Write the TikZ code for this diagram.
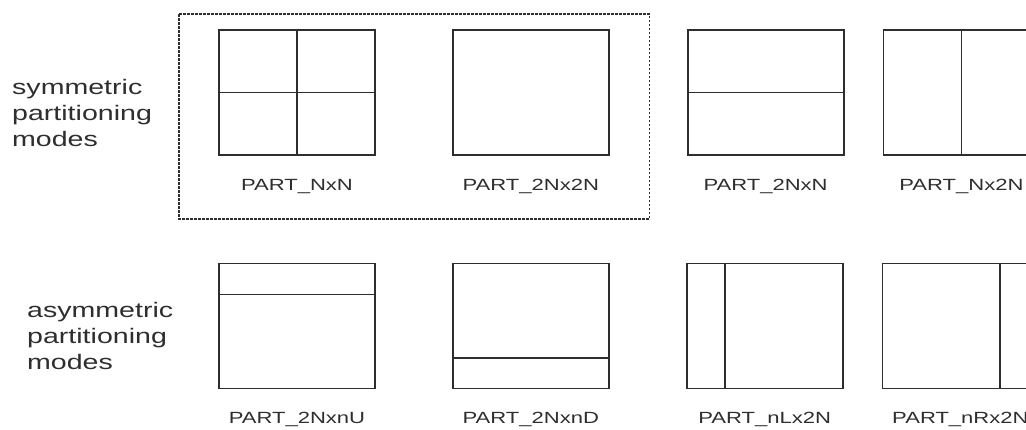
\documentclass[tikz,border=0pt]{standalone}
\usepackage{fontspec}
\setmainfont[FakeStretch=1.36]{Liberation Sans}
\usetikzlibrary{positioning,calc}
\definecolor{linegray}{rgb}{0.18,0.18,0.18}
\tikzset {
        partbox/.style={rectangle, draw=linegray, line width=1.8pt, inner sep=0pt, minimum width=156pt, minimum height=125pt},
        partname/.style={inner sep=0pt, text=linegray, font=\fontsize{16.2}{18}\selectfont},
        modename/.style={align=left, inner sep=0pt, text=linegray, font=\fontsize{21}{26}\selectfont},
        splitline/.style={draw=linegray, line width=1.6pt},
        groupbox/.style={draw=linegray, line width=1.4pt, dash pattern=on 2.5pt off 1.5pt}
}
\begin{document}
\begin{tikzpicture}[x=1pt, y=-1pt]
            \useasboundingbox (0,0) rectangle (1026,429);
            % symmetric row
            \node[partbox] (NxN) at (297,92.5) {};
            \node[partbox, right=76pt of NxN] (TwoNxTwoN) {};
            \node[partbox, right=77pt of TwoNxTwoN] (TwoNxN) {};
            \node[partbox, right=38pt of TwoNxN] (NxTwoN) {};
            \node[partname, below=23pt of NxN] (NxNName) {PART\_NxN};
            \node[partname, below=23pt of TwoNxTwoN] (TwoNxTwoNName) {PART\_2Nx2N};
            \node[partname, below=23pt of TwoNxN] (TwoNxNName) {PART\_2NxN};
            \node[partname, below=23pt of NxTwoN] (NxTwoNName) {PART\_Nx2N};
            \node[modename, anchor=west] (SymModes) at (12,113) {symmetric\\partitioning\\modes};

            % asymmetric row
            \node[partbox] (TwoNxnU) at (297,326) {};
            \node[partbox, right=76pt of TwoNxnU] (TwoNxnD) {};
            \node[partbox, right=76pt of TwoNxnD] (nLxTwoN) {};
            \node[partbox, right=38pt of nLxTwoN] (nRxTwoN) {};
            \node[partname, below=23pt of TwoNxnU] (TwoNxnUName) {PART\_2NxnU};
            \node[partname, below=23pt of TwoNxnD] (TwoNxnDName) {PART\_2NxnD};
            \node[partname, below=23pt of nLxTwoN] (nLxTwoNName) {PART\_nLx2N};
            \node[partname, below=23pt of nRxTwoN] (nRxTwoNName) {PART\_nRx2N};
            \node[modename, anchor=west] (AsymModes) at (27,336) {asymmetric\\partitioning\\modes};

            \draw[splitline] (NxN.north) -- (NxN.south);
            \draw[splitline] (NxN.west) -- (NxN.east);
            \draw[splitline] (TwoNxN.west) -- (TwoNxN.east);
            \draw[splitline] (NxTwoN.north) -- (NxTwoN.south);
            \draw[splitline] ($(TwoNxnU.north west)!0.25!(TwoNxnU.south west)$) -- ($(TwoNxnU.north east)!0.25!(TwoNxnU.south east)$);
            \draw[splitline] ($(TwoNxnD.north west)!0.75!(TwoNxnD.south west)$) -- ($(TwoNxnD.north east)!0.75!(TwoNxnD.south east)$);
            \draw[splitline] ($(nLxTwoN.north west)!0.25!(nLxTwoN.north east)$) -- ($(nLxTwoN.south west)!0.25!(nLxTwoN.south east)$);
            \draw[splitline] ($(nRxTwoN.north west)!0.75!(nRxTwoN.north east)$) -- ($(nRxTwoN.south west)!0.75!(nRxTwoN.south east)$);

            \draw[groupbox] ($(NxN.north west)+(-39pt,15pt)$) rectangle ($(TwoNxTwoN.south east)+(40pt,-63pt)$);
\end{tikzpicture}
\end{document}
